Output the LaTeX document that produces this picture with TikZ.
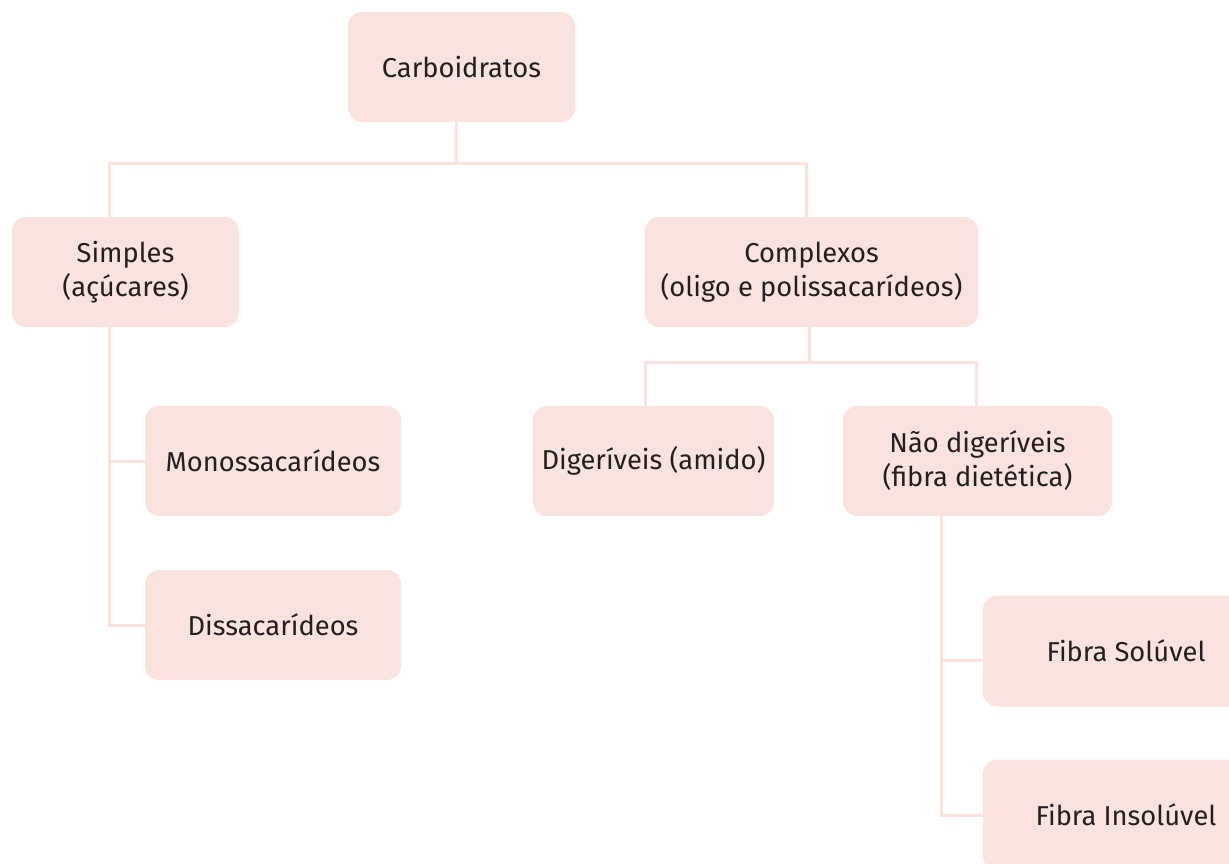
\documentclass[tikz,border=0pt]{standalone}
\usepackage{fontspec}
\setmainfont{Fira Sans}
\usepackage{tikz}
\usetikzlibrary{calc}

\definecolor{boxpink}{HTML}{FAE3DE}
\definecolor{txtgray}{HTML}{231F20}

\tikzset{
  carb/.style={fill=boxpink, rounded corners=14pt, inner sep=0pt, align=center,
    text=txtgray, font=\fontsize{27.3}{34}\selectfont},
  link/.style={draw=boxpink, line width=3pt}
}

\begin{document}
\begin{tikzpicture}[x=1pt, y=-1pt]
    \useasboundingbox (0,0) rectangle (1229,863);
    \clip (0,0) rectangle (1229,863);

    % Draw the boxes
    \node[carb, minimum width=227pt, minimum height=110pt] (carbo) at (461.5,67) {Carboidratos};
    \node[carb, minimum width=227pt, minimum height=110pt] (simples) at (125.5,272) {Simples\\(açúcares)};
    \node[carb, minimum width=333pt, minimum height=110pt] (complexos) at (811.5,272) {Complexos\\(oligo e polissacarídeos)};
    \node[carb, minimum width=256pt, minimum height=110pt] (mono) at (273,461) {Monossacarídeos};
    \node[carb, minimum width=256pt, minimum height=110pt] (dissa) at (273,625) {Dissacarídeos};
    \node[carb, minimum width=241pt, minimum height=110pt] (dig) at (653.5,461) {Digeríveis (amido)};
    \node[carb, minimum width=269pt, minimum height=110pt] (naodig) at (977.5,461) {Não digeríveis\\(fibra dietética)};
    \node[carb, minimum width=286pt, minimum height=111pt] (soluvel) at (1126,651) {Fibra Solúvel};
    \node[carb, minimum width=286pt, minimum height=111pt] (insoluvel) at (1126,815) {Fibra Insolúvel};

    % Draw the connectors
    \coordinate (top) at (456,163);
    \draw[link] (carbo.south -| top) -- (top);
    \draw[link] (simples.north -| 109,0) |- (top) -| (complexos.north -| 806,0);

    \draw[link] (simples.south -| 109,0) |- (dissa.west);
    \draw[link] (109,461) -- (mono.west);

    \coordinate (mid) at (809,362);
    \draw[link] (complexos.south -| mid) -- (mid);
    \draw[link] (dig.north -| 645,0) |- (mid) -| (naodig.north -| 976,0);

    \draw[link] (naodig.south -| 941,0) |- (941,815) -- (insoluvel.west |- 941,815);
    \draw[link] (941,660) -- (soluvel.west |- 941,660);
\end{tikzpicture}
\end{document}
